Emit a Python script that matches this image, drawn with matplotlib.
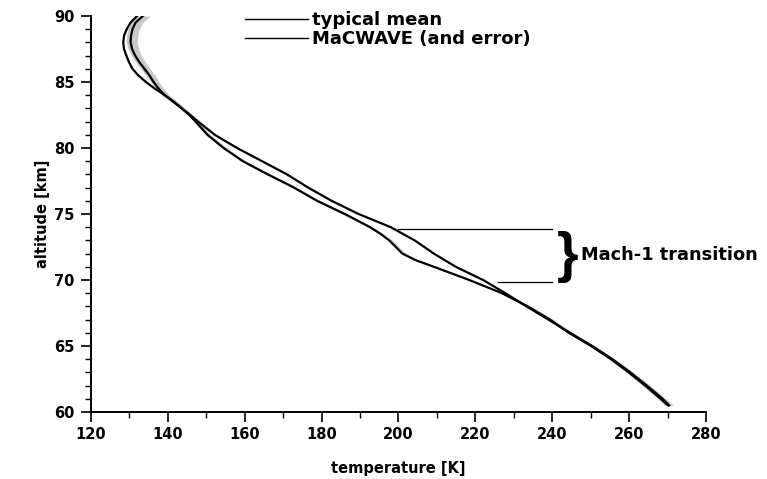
import matplotlib
matplotlib.use('Agg')
import matplotlib.pyplot as plt
import numpy as np
from matplotlib.ticker import MultipleLocator

plt.rcParams['font.family'] = ['DejaVu Sans']
plt.rcParams['font.weight'] = 'bold'

# typical mean profile (altitude km, temperature K)
typical_alt = [90, 89.5, 89, 88.5, 88, 87.5, 87, 86.5, 86, 85.5, 85, 84.5, 84, 83.5, 83,
               82.5, 82, 81, 80, 79, 78, 77, 76, 75, 74, 73, 72, 71, 70, 69, 68, 67,
               66, 65, 64, 63, 62, 61, 60.5]
typical_temp = [132.0, 130.3, 129.3, 128.6, 128.4, 128.6, 129.2, 129.9, 130.8, 132.3, 134.3,
                136.6, 139.2, 141.6, 143.6, 145.8, 147.9, 152.2, 158.0, 164.5, 171.0, 176.5,
                182.6, 189.6, 198.0, 204.2, 209.2, 214.9, 222.0, 227.8, 233.3, 239.0, 244.6,
                250.4, 255.6, 260.3, 264.6, 268.7, 270.4]

# MaCWAVE profile and its error
macwave_alt = [90, 89.5, 89, 88.5, 88, 87.5, 87, 86.5, 86, 85.5, 85, 84.5, 84, 83.5, 83,
               82.5, 82, 81, 80, 79, 78, 77, 76, 75, 74, 73.5, 73, 72.5, 72, 71.5, 71,
               70.5, 70, 69, 68, 67, 66, 65, 64, 63, 62, 61, 60.5]
macwave_temp = [133.5, 131.6, 130.8, 130.4, 130.3, 130.7, 131.5, 132.6, 133.9, 135.2, 136.3,
                137.6, 139.2, 141.4, 143.6, 145.6, 147.2, 150.3, 154.5, 159.5, 166.0, 172.8,
                178.8, 186.0, 192.6, 195.3, 197.6, 199.3, 201.0, 204.5, 209.2, 213.8, 218.4,
                226.9, 233.6, 239.4, 244.3, 250.1, 255.3, 259.9, 264.2, 268.2, 270.1]
macwave_err = [1.3, 1.3, 1.2, 1.2, 1.1, 1.1, 1.0, 1.0, 0.9, 0.9, 0.8, 0.7, 0.6, 0.5, 0.4,
               0.3, 0.3, 0.2, 0.2, 0.2, 0.2, 0.2, 0.2, 0.2, 0.2, 0.2, 0.2, 0.2, 0.2, 0.2,
               0.2, 0.2, 0.2, 0.2, 0.3, 0.3, 0.4, 0.4, 0.5, 0.6, 0.7, 0.8, 0.9]

# Mach-1 transition markers
mach_upper = (73.9, 200, 240)
mach_lower = (69.85, 226, 240)

fig = plt.figure(figsize=(7.67, 4.79), dpi=100)
ax = fig.add_axes([0.1186, 0.1399, 0.8019, 0.8267])

t = np.array(macwave_temp)
e = np.array(macwave_err)
ax.fill_betweenx(macwave_alt, t - e, t + e + 0.6, color='0.65', alpha=0.6, lw=0)
l1, = ax.plot(typical_temp, typical_alt, color='black', lw=1.6, label='typical mean')
l2, = ax.plot(macwave_temp, macwave_alt, color='black', lw=1.6, label='MaCWAVE (and error)')

ax.plot([mach_upper[1], mach_upper[2]], [mach_upper[0]] * 2, color='black', lw=0.9)
ax.plot([mach_lower[1], mach_lower[2]], [mach_lower[0]] * 2, color='black', lw=0.9)
ax.text(244, 71.75, '}', fontsize=40, fontweight='bold', family='Liberation Sans',
        ha='center', va='center')
ax.text(247.5, 71.9, 'Mach-1 transition', fontsize=12.8, fontweight='bold',
        ha='left', va='center')

ax.set_xlim(120, 280)
ax.set_ylim(60, 90)
ax.xaxis.set_major_locator(MultipleLocator(20))
ax.xaxis.set_minor_locator(MultipleLocator(10))
ax.yaxis.set_major_locator(MultipleLocator(5))
ax.yaxis.set_minor_locator(MultipleLocator(1))
ax.tick_params(which='major', direction='out', length=7, width=1.2, labelsize=10.5)
ax.tick_params(axis='y', which='major', pad=5)
ax.tick_params(which='minor', direction='out', length=4, width=1.0)
for lab in ax.get_xticklabels() + ax.get_yticklabels():
    lab.set_fontweight('bold')

ax.spines['top'].set_visible(False)
ax.spines['right'].set_visible(False)
ax.spines['left'].set_linewidth(1.4)
ax.spines['bottom'].set_linewidth(1.4)

ax.set_xlabel('temperature [K]', fontsize=10.5, fontweight='bold', labelpad=14)
ax.set_ylabel('altitude [km]', fontsize=10.5, fontweight='bold', labelpad=3)

leg = ax.legend(handles=[l1, l2], loc='upper left', bbox_to_anchor=(245 / 767, 1 - 11 / 479),
                bbox_transform=fig.transFigure, frameon=False, fontsize=13,
                handlelength=3.5, handletextpad=0.2, labelspacing=0.05, borderpad=0,
                borderaxespad=0)
for h in leg.get_lines():
    h.set_linewidth(1.0)

fig.savefig('out.png', dpi=100, facecolor='white')
